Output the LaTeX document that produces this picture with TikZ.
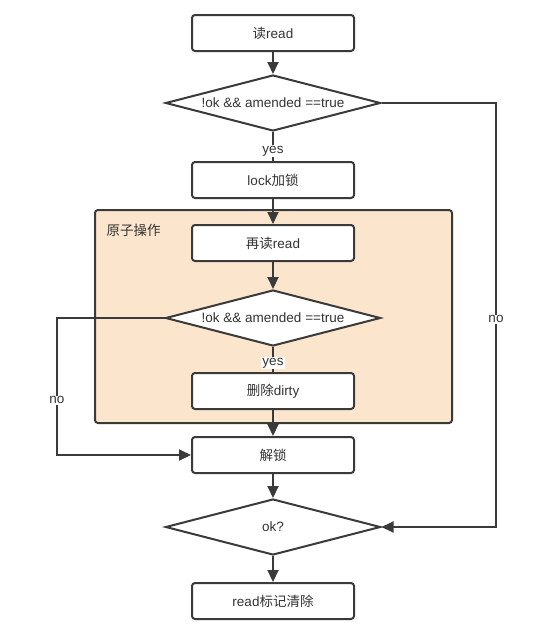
\documentclass[tikz,border=0pt]{standalone}
\usepackage{fontspec}
\setmainfont{Liberation Sans}
\newfontfamily\cjk{Noto Sans CJK SC}
\usetikzlibrary{shapes.geometric,arrows.meta}
\definecolor{linec}{HTML}{3A3A3A}
\definecolor{textc}{HTML}{333333}
\definecolor{peach}{HTML}{FCE5CD}
\tikzset{
  every node/.style={font=\fontsize{13.5}{15}\selectfont, text=textc},
  stepbox/.style={draw=linec, line width=2pt, fill=white, rounded corners=3pt,
    minimum width=162pt, minimum height=36pt, inner sep=0pt},
  decision/.style={draw=linec, line width=2pt, fill=white, shape=diamond, shape aspect=3.8,
    minimum width=215pt, minimum height=56pt, inner sep=0pt},
  conn/.style={draw=linec, line width=2pt},
  arr/.style={conn, -{Triangle[length=12pt,width=11pt]}},
  lbl/.style={fill=white, inner sep=1pt}
}
\begin{document}
\begin{tikzpicture}[x=1pt,y=-1pt]
\useasboundingbox (0,0) rectangle (534,637);
% container
\path[draw=linec, line width=2pt, fill=peach, rounded corners=3pt] (95,210) rectangle (452,423);
\node[anchor=west] (grp) at (103,230) {\cjk 原子操作};
% nodes
\node[stepbox] (b1) at (273,33) {{\cjk 读}read};
\node[decision] (d1) at (273,103) {!ok \&\& amended ==true};
\node[stepbox] (b2) at (273,180) {lock{\cjk 加锁}};
\node[stepbox] (b3) at (273,243) {{\cjk 再读}read};
\node[decision] (d2) at (273,318) {!ok \&\& amended ==true};
\node[stepbox] (b4) at (273,391) {{\cjk 删除}dirty};
\node[stepbox] (b5) at (273,455) {\cjk 解锁};
\node[decision] (d3) at (273,527) {ok?};
\node[stepbox] (b6) at (273,601) {read{\cjk 标记清除}};
\coordinate (r1) at (496,103);
\coordinate (l1) at (57,318);
% connectors
\draw[arr] (b1) -- (d1);
\draw[conn] (d1) -- node[lbl, pos=0.65] (y1) {yes} (b2);
\draw[arr] (b2) -- (b3);
\draw[arr] (b3) -- (d2);
\draw[conn] (d2) -- node[lbl, pos=0.65] (y2) {yes} (b4);
\draw[arr] (b4) -- (b5);
\draw[arr] (b5) -- (d3);
\draw[arr] (d3) -- (b6);
\draw[arr] (d1.east) -- (r1) |- node[lbl, pos=0.255] (n1) {no} (d3.east);
\draw[arr] (d2.west) -- (l1) |- node[lbl, pos=0.3] (n2) {no} (b5.west);
\end{tikzpicture}
\end{document}
